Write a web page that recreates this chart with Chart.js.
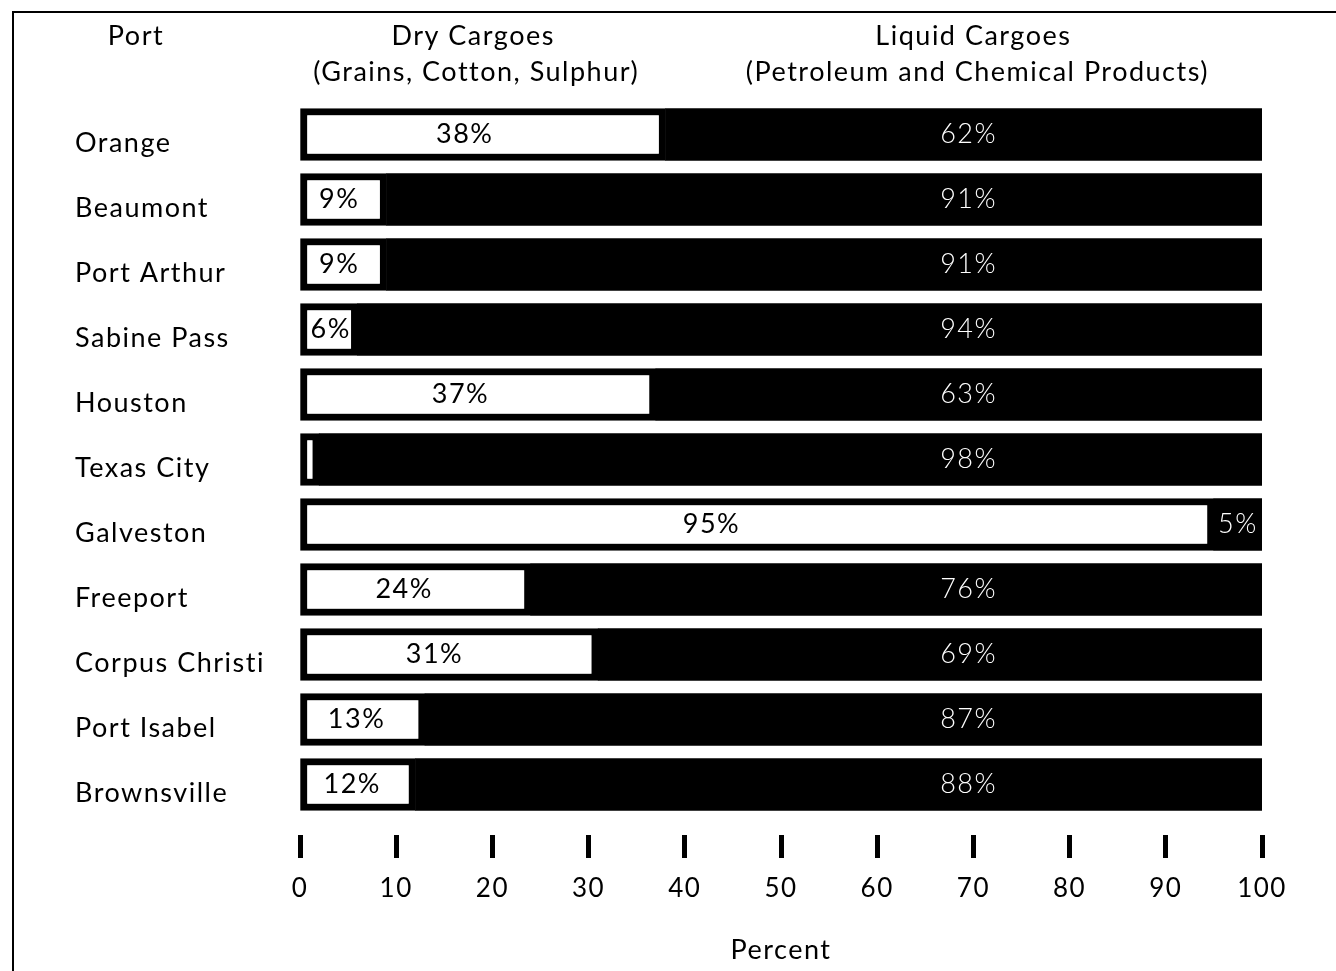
<!DOCTYPE html>
<html>
<head>
<meta charset="utf-8">
<title>Dry and Liquid Cargoes by Port</title>
<script src="https://cdn.jsdelivr.net/npm/chart.js@4.4.1/dist/chart.umd.min.js"></script>
<style>
  html, body { margin: 0; padding: 0; background: #fff; }
  #wrap { position: relative; width: 1336px; height: 971px; }
  canvas { display: block; }
</style>
</head>
<body>
<div id="wrap"><canvas id="chart" width="1336" height="971"></canvas></div>
<script>
// Ports, top to bottom
const ports = ['Orange', 'Beaumont', 'Port Arthur', 'Sabine Pass', 'Houston', 'Texas City',
  'Galveston', 'Freeport', 'Corpus Christi', 'Port Isabel', 'Brownsville'];

// Share of tonnage, percent
const dryCargoes = [38, 9, 9, 6, 37, 2, 95, 24, 31, 13, 12];
const liquidCargoes = [62, 91, 91, 94, 63, 98, 5, 76, 69, 87, 88];

// Axis ticks
const percentTicks = [0, 10, 20, 30, 40, 50, 60, 70, 80, 90, 100];

// Column headings
const headPort = 'Port';
const headDry = ['Dry Cargoes', '(Grains, Cotton, Sulphur)'];
const headLiquid = ['Liquid Cargoes', '(Petroleum and Chemical Products)'];
const axisTitle = 'Percent';

const FONT = 'Lato, "Open Sans", sans-serif';
const SIZE = 27;
Chart.defaults.font.family = FONT;
Chart.defaults.font.size = SIZE;
Chart.defaults.color = '#000';

function spacing(ctx) { ctx.letterSpacing = '1.5px'; }

// Letter-spaced text throughout (canvas resets reset the state, so re-apply)
const spacingPlugin = {
  id: 'spacing',
  beforeLayout(chart) { spacing(chart.ctx); },
  beforeDraw(chart) { spacing(chart.ctx); }
};

// Outer frame and column headings
const framePlugin = {
  id: 'frame',
  beforeDraw(chart) {
    const ctx = chart.ctx;
    ctx.save();
    ctx.fillStyle = '#fff';
    ctx.fillRect(0, 0, chart.width, chart.height);
    ctx.strokeStyle = '#000';
    ctx.lineWidth = 2;
    ctx.beginPath();
    ctx.moveTo(13, chart.height);
    ctx.lineTo(13, 12);
    ctx.lineTo(chart.width, 12);
    ctx.stroke();
    ctx.restore();
  },
  afterDraw(chart) {
    const ctx = chart.ctx;
    const x = chart.scales.x;
    ctx.save();
    spacing(ctx);
    ctx.fillStyle = '#000';
    ctx.font = SIZE + 'px ' + FONT;
    ctx.textAlign = 'center';
    ctx.textBaseline = 'middle';
    ctx.fillText(headPort, 136, 36);
    const dx = x.getPixelForValue(18);
    ctx.fillText(headDry[0], dx, 36);
    ctx.fillText(headDry[1], dx + 3, 72);
    const lx = x.getPixelForValue(70);
    ctx.fillText(headLiquid[0], lx, 36);
    ctx.fillText(headLiquid[1], lx + 4, 72);
    ctx.restore();
  }
};

// Percent labels inside the bar segments
const valueLabels = {
  id: 'valueLabels',
  afterDatasetsDraw(chart) {
    const ctx = chart.ctx;
    const xs = chart.scales.x;
    ctx.save();
    spacing(ctx);
    ctx.textBaseline = 'middle';
    ctx.textAlign = 'center';
    // dry segment: black on white
    chart.getDatasetMeta(0).data.forEach((bar, i) => {
      const text = dryCargoes[i] + '%';
      ctx.font = SIZE + 'px ' + FONT;
      const tw = ctx.measureText(text).width;
      const left = Math.min(bar.base, bar.x);
      const w = Math.abs(bar.x - bar.base);
      if (w < tw + 10) return;
      ctx.fillStyle = '#000';
      ctx.fillText(text, left + Math.max(0.45 * w, tw / 2 + 10), bar.y);
    });
    // liquid segment: white on black
    chart.getDatasetMeta(1).data.forEach((bar, i) => {
      const text = liquidCargoes[i] + '%';
      const left = Math.min(bar.base, bar.x);
      const right = Math.max(bar.base, bar.x);
      const cx = Math.max((left + right) / 2, xs.getPixelForValue(69.5));
      ctx.font = '300 ' + SIZE + 'px ' + FONT;
      ctx.fillStyle = '#fff';
      ctx.fillText(text, cx, bar.y);
    });
    ctx.restore();
  }
};

new Chart(document.getElementById('chart'), {
  type: 'bar',
  data: {
    labels: ports,
    datasets: [
      {
        label: 'Dry Cargoes',
        data: dryCargoes,
        backgroundColor: '#fff',
        borderColor: '#000',
        borderWidth: 7,
        borderSkipped: false,
        barThickness: 52
      },
      {
        label: 'Liquid Cargoes',
        data: liquidCargoes,
        backgroundColor: '#000',
        borderWidth: 0,
        barThickness: 52
      }
    ]
  },
  options: {
    indexAxis: 'y',
    responsive: false,
    animation: false,
    devicePixelRatio: 1,
    layout: { padding: { left: 75, right: 74, top: 102, bottom: 0 } },
    plugins: {
      legend: { display: false },
      tooltip: { enabled: false },
      title: { display: false }
    },
    scales: {
      x: {
        stacked: true,
        min: 0,
        max: 100,
        position: 'bottom',
        afterBuildTicks(scale) { scale.ticks = percentTicks.map(v => ({ value: v })); },
        afterFit(scale) { scale.height = 154; },
        grid: {
          drawOnChartArea: false,
          drawTicks: true,
          tickLength: 41,
          tickWidth: 5,
          tickColor: '#000',
          tickBorderDash: [0, 18, 23, 100]
        },
        border: { display: false },
        ticks: { padding: 15, color: '#000', font: { size: 26 } },
        title: {
          display: true,
          text: axisTitle,
          color: '#000',
          font: { size: SIZE },
          padding: { top: 0, bottom: 5 }
        }
      },
      y: {
        stacked: true,
        position: 'left',
        afterFit(scale) { scale.width = 225; },
        grid: { display: false },
        border: { display: false },
        ticks: { crossAlign: 'far', labelOffset: 9, color: '#000', font: { size: SIZE } }
      }
    }
  },
  plugins: [spacingPlugin, framePlugin, valueLabels]
});
</script>
</body>
</html>
